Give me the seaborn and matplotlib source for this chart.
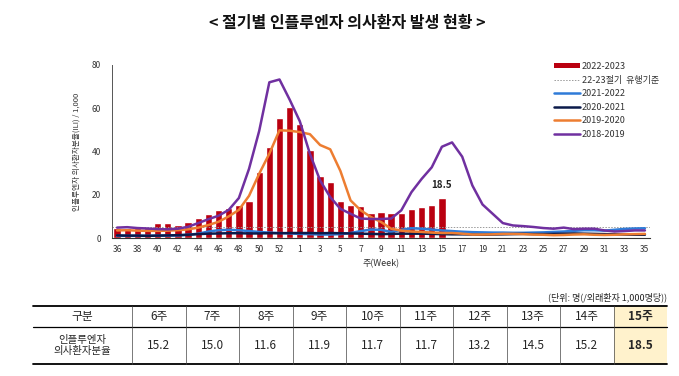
import numpy as np
import pandas as pd
import matplotlib
matplotlib.use('Agg')
import matplotlib.pyplot as plt
import seaborn as sns
from matplotlib.patches import Patch, Rectangle
from matplotlib.lines import Line2D

# 주차 (36주 ~ 53주, 1주 ~ 35주)
weeks = list(range(36, 54)) + list(range(1, 36))

# 2022-2023 의사환자분율 (막대)
ili_2223 = [4.6, 4.8, 4.6, 4.5, 7.0, 7.0, 6.2, 7.6, 9.3, 11.2, 13.1, 14.0, 15.2, 17.3, 30.3,
            41.9, 55.4, 60.7, 52.5, 40.6, 28.6, 25.8, 17.1, 15.2, 15.0, 11.6, 11.9, 11.7, 11.7,
            13.2, 14.5, 15.2, 18.5]

ili_2122 = [1.0, 1.0, 1.0, 1.0, 1.1, 1.1, 1.2, 1.5, 2.0, 3.0, 3.6, 3.8, 3.6, 3.2, 2.8, 2.5,
            2.3, 2.1, 1.9, 1.8, 1.6, 1.6, 1.8, 2.3, 3.2, 3.9, 3.8, 2.8, 3.8, 4.5, 4.3, 3.9,
            3.5, 3.2, 2.9, 2.7, 2.6, 2.5, 2.5, 2.4, 2.4, 2.5, 2.6, 2.8, 3.0, 3.3, 3.6, 3.6,
            3.4, 3.8, 4.2, 4.4, 4.5]

ili_2021 = [1.2, 1.1, 1.1, 1.0, 1.1, 1.2, 1.3, 1.5, 1.8, 2.0, 2.1, 2.2, 2.2, 2.1, 2.1, 2.2,
            2.2, 2.3, 2.3, 2.3, 2.2, 2.3, 2.2, 2.1, 2.0, 1.9, 1.8, 1.9, 2.0, 2.0, 2.0, 1.9,
            1.8, 1.7, 1.7, 1.6, 1.5, 1.6, 1.7, 1.8, 1.9, 1.8, 1.8, 1.9, 2.0, 2.1, 2.0, 1.9,
            1.8, 1.7, 1.6, 1.5, 1.5]

ili_1920 = [3.5, 3.6, 3.4, 3.3, 3.3, 3.4, 3.6, 4.0, 4.8, 6.0, 7.5, 10.0, 13.0, 19.5, 29.7,
            39.0, 49.8, 49.6, 49.0, 48.0, 43.0, 41.0, 31.0, 17.4, 12.8, 9.7, 7.4, 4.3, 3.4,
            3.0, 2.8, 2.5, 2.3, 2.3, 2.0, 1.6, 1.6, 1.7, 1.9, 1.9, 1.8, 1.6, 1.5, 1.3, 1.4,
            1.6, 1.7, 1.5, 1.4, 1.5, 1.7, 1.8, 1.9]

ili_1819 = [4.8, 5.0, 4.6, 4.4, 4.1, 4.0, 4.3, 5.2, 6.9, 8.7, 10.3, 13.0, 18.5, 32.0, 49.5,
            72.0, 73.3, 64.0, 54.0, 38.9, 26.6, 18.9, 13.5, 11.2, 9.0, 8.8, 8.8, 9.0, 12.8,
            21.2, 27.3, 32.7, 42.2, 44.2, 37.6, 24.3, 15.5, 11.2, 6.9, 5.8, 5.5, 5.1, 4.6,
            4.3, 4.8, 4.1, 4.3, 4.3, 3.5, 3.0, 3.2, 3.5, 3.5]

threshold = 4.9

# 표 데이터
tbl_weeks = ['6주', '7주', '8주', '9주', '10주', '11주', '12주', '13주', '14주', '15주']
tbl_values = ['15.2', '15.0', '11.6', '11.9', '11.7', '11.7', '13.2', '14.5', '15.2', '18.5']

sns.set_style('white')
plt.rcParams['font.family'] = ['Noto Sans CJK KR', 'DejaVu Sans']
plt.rcParams['axes.unicode_minus'] = False

fig = plt.figure(figsize=(6.79, 3.76), dpi=100)
ax = fig.add_axes([112 / 679, 1 - 238 / 376, (650 - 112) / 679, (238 - 65) / 376])

pos = np.arange(len(weeks))
bar_df = pd.DataFrame({'pos': pos[:len(ili_2223)], 'ili': ili_2223})
sns.barplot(data=bar_df, x='pos', y='ili', native_scale=True, color='#BA0010',
            saturation=1, width=0.72, ax=ax)

ax.axhline(threshold, color='#9a9a9a', lw=0.7, ls=(0, (1.5, 1.5)))

line_series = [
    (ili_2122, '#2F7BD8', 1.8, '2021-2022'),
    (ili_2021, '#0B1A4A', 1.8, '2020-2021'),
    (ili_1920, '#ED7D31', 1.8, '2019-2020'),
    (ili_1819, '#7030A0', 1.8, '2018-2019'),
]
for vals, col, lw, lab in line_series:
    sns.lineplot(x=pos, y=vals, color=col, lw=lw, ax=ax)

ax.text(32, 18.5 + 3.5, '18.5', ha='center', va='bottom', fontsize=7, fontweight='bold',
        color='#222222')

ax.set_xlim(-0.5, len(weeks) - 0.5)
ax.set_ylim(0, 80)
ax.set_yticks([0, 20, 40, 60, 80])
ax.set_xticks(pos)
ax.set_xticklabels([str(w) if i % 2 == 0 else '' for i, w in enumerate(weeks)])
ax.tick_params(axis='both', labelsize=6, colors='#333333', length=2, width=0.6, pad=3)
ax.tick_params(axis='y', pad=6)
ax.set_xlabel('주(Week)', fontsize=6.5, color='#333333', labelpad=4)
ax.set_ylabel('인플루엔자 의사환자분율(ILI) / 1,000', fontsize=5.5, color='#333333', labelpad=8)
for s in ['top', 'right']:
    ax.spines[s].set_visible(False)
ax.spines['left'].set_color('#555555')
ax.spines['bottom'].set_color('#333333')
ax.spines['left'].set_linewidth(0.7)
ax.spines['bottom'].set_linewidth(0.8)

handles = [Patch(facecolor='#BA0010', edgecolor='none'),
           Line2D([], [], color='#9a9a9a', lw=0.7, ls=(0, (1.5, 1.5)))]
labels = ['2022-2023', '22-23절기  유행기준']
for vals, col, lw, lab in line_series:
    handles.append(Line2D([], [], color=col, lw=lw))
    labels.append(lab)
leg = ax.legend(handles, labels, loc='upper left', bbox_to_anchor=(546 / 679, 1 - 54 / 376),
                bbox_transform=fig.transFigure, frameon=False, fontsize=6.5,
                handlelength=2.9, handleheight=0.45, handletextpad=0.15, labelspacing=0.5)
for t in leg.get_texts():
    t.set_color('#333333')

fig.text(0.512, 1 - 23 / 376, '< 절기별 인플루엔자 의사환자 발생 현황 >', ha='center', va='center',
         fontsize=11.5, fontweight='bold', color='#111111')

# 표 (픽셀 좌표로 그리기)
tax = fig.add_axes([0, 0, 1, 1])
tax.set_xlim(0, 679)
tax.set_ylim(376, 0)
tax.axis('off')

left, first_right, right = 33, 132, 667
top, mid, bottom = 306, 327, 364
col_w = (right - first_right) / len(tbl_weeks)

tax.add_patch(Rectangle((right - col_w, top), col_w, bottom - top, facecolor='#FFF2CC',
                        edgecolor='none'))
tax.plot([left, right], [top, top], color='black', lw=1.3)
tax.plot([left, right], [mid, mid], color='black', lw=0.9)
tax.plot([left, right], [bottom, bottom], color='black', lw=1.3)
for i in range(len(tbl_weeks)):
    x = first_right + i * col_w
    tax.plot([x, x], [top, bottom], color='#444444', lw=0.5)

tax.text(right, 297, '(단위: 명(/외래환자 1,000명당))', ha='right', va='center', fontsize=6.5,
         color='#222222')
tax.text((left + first_right) / 2, (top + mid) / 2, '구분', ha='center', va='center', fontsize=8.5)
tax.text((left + first_right) / 2, (mid + bottom) / 2, '인플루엔자\n의사환자분율', ha='center',
         va='center', fontsize=7.5, linespacing=1.15)
for i, (wk, v) in enumerate(zip(tbl_weeks, tbl_values)):
    cx = first_right + (i + 0.5) * col_w
    bold = 'bold' if i == len(tbl_weeks) - 1 else 'normal'
    tax.text(cx, (top + mid) / 2, wk, ha='center', va='center', fontsize=8.5, fontweight=bold)
    tax.text(cx, (mid + bottom) / 2, v, ha='center', va='center', fontsize=8.5, fontweight=bold)

fig.savefig('out.png', dpi=100)
